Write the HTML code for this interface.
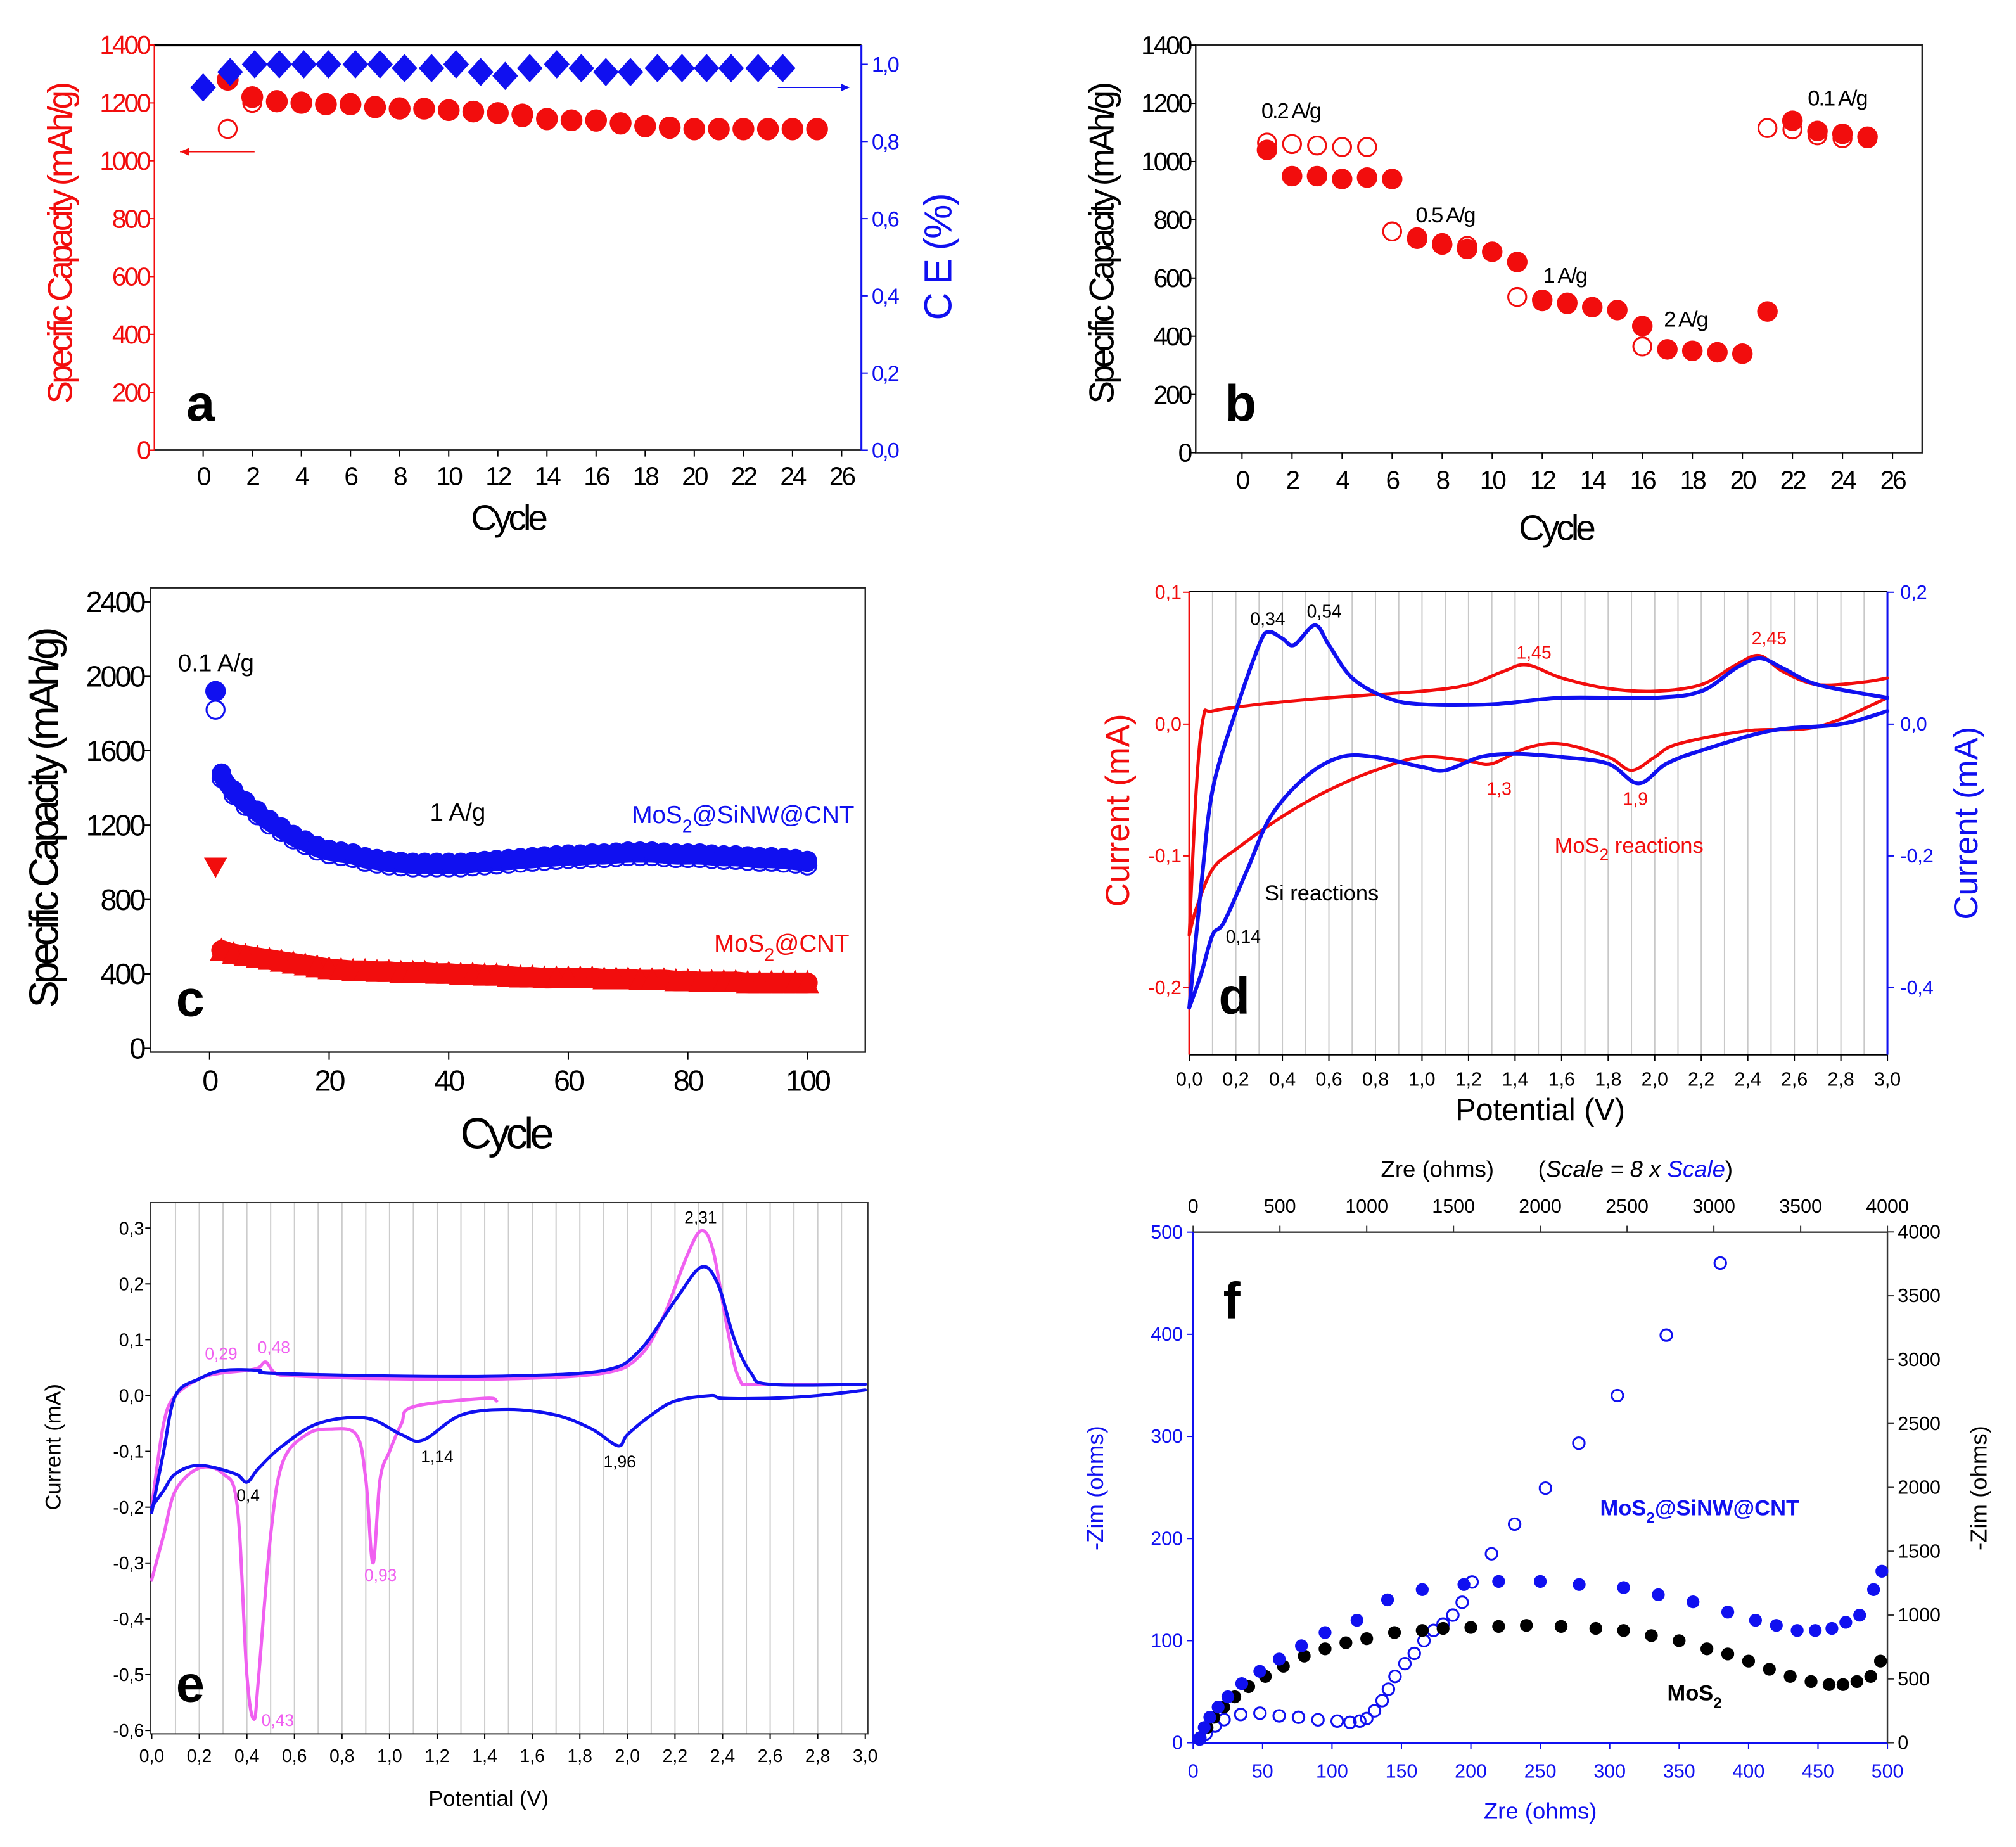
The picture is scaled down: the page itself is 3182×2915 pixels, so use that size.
<!DOCTYPE html>
<html><head><meta charset="utf-8"><style>
html,body{margin:0;padding:0;background:#fff;}
svg{display:block;}
text{font-family:"Liberation Sans",sans-serif;}
</style></head><body>
<svg id="fig" xmlns="http://www.w3.org/2000/svg" width="3182" height="2915" viewBox="0 0 1568 1436" preserveAspectRatio="none"></svg>
<script>
// ---------- Panel a data ----------
const aCycles=[1,2,3,4,5,6,7,8,9,10,11,12,13,14,15,16,17,18,19,20,21,22,23,24,25];
const aCharge=[1280,1220,1205,1200,1195,1195,1185,1180,1180,1175,1170,1165,1160,1145,1140,1140,1130,1120,1115,1110,1110,1110,1110,1110,1110];
const aDischarge=[1110,1200,1210,1205,1200,1200,1190,1185,1180,1175,1170,1165,1150,1140,1140,1135,1125,1115,1110,1105,1105,1105,1105,1105,1105];
const aCECycles=[0,1.1,2.1,3.1,4.1,5.1,6.2,7.2,8.2,9.3,10.3,11.3,12.3,13.3,14.4,15.4,16.4,17.4,18.5,19.5,20.5,21.5,22.6,23.6];
const aCE=[0.94,0.98,1.0,1.0,1.0,1.0,1.0,1.0,0.99,0.99,1.0,0.98,0.97,0.99,1.0,0.99,0.98,0.98,0.99,0.99,0.99,0.99,0.99,0.99];
const aYTicks=[0,200,400,600,800,1000,1200,1400];
const aY2Ticks=["0,0","0,2","0,4","0,6","0,8","1,0"];
const xTicks26=[0,2,4,6,8,10,12,14,16,18,20,22,24,26];
// ---------- Panel b data ----------
const bCycles=[1,2,3,4,5,6,7,8,9,10,11,12,13,14,15,16,17,18,19,20,21,22,23,24,25];
const bFilled=[1040,950,950,940,945,940,735,715,700,690,655,525,515,500,490,435,355,350,345,340,485,1140,1105,1095,1085];
const bOpen=[1065,1060,1055,1050,1050,760,740,720,710,690,535,520,510,500,490,365,355,350,345,340,1115,1110,1090,1080,1080];
// ---------- Panel c data ----------
const cCycles=[2,4,6,8,10,12,14,16,18,20,22,24,26,28,30,32,34,36,38,40,42,44,46,48,50,52,54,56,58,60,62,64,66,68,70,72,74,76,78,80,82,84,86,88,90,92,94,96,98,100];
const cBlue=[1480,1390,1330,1280,1230,1190,1150,1120,1090,1070,1060,1050,1030,1020,1010,1005,1000,1000,1000,1000,1000,1005,1010,1015,1020,1025,1030,1035,1040,1045,1045,1050,1050,1055,1060,1060,1060,1055,1050,1050,1050,1045,1040,1040,1035,1030,1030,1025,1020,1010];
const cRed=[520,500,490,480,470,460,450,440,430,420,415,410,410,405,405,400,400,400,395,395,390,390,385,385,380,375,375,370,370,370,370,370,365,365,365,360,360,360,355,355,350,350,350,350,345,345,345,345,345,345];
const cYTicks=[0,400,800,1200,1600,2000,2400];
const cXTicks=[0,20,40,60,80,100];
// ---------- Panel d data ----------
const dRedUpV=[0,0.03,0.06,0.1,0.3,0.6,1.0,1.2,1.35,1.45,1.6,1.8,2.0,2.2,2.35,2.45,2.55,2.7,2.9,3.0];
const dRedUpI=[-0.16,-0.05,0.005,0.01,0.015,0.02,0.025,0.03,0.04,0.045,0.035,0.027,0.025,0.03,0.045,0.052,0.04,0.03,0.032,0.035];
const dRedDnV=[3.0,2.7,2.4,2.1,2.0,1.9,1.8,1.6,1.45,1.3,1.2,1.0,0.8,0.6,0.4,0.2,0.1,0.03,0.0];
const dRedDnI=[0.02,-0.002,-0.005,-0.015,-0.025,-0.035,-0.025,-0.015,-0.018,-0.03,-0.028,-0.025,-0.035,-0.05,-0.07,-0.095,-0.11,-0.14,-0.16];
const dBlueUpV=[0,0.05,0.1,0.2,0.3,0.34,0.4,0.45,0.54,0.6,0.7,0.85,1.0,1.3,1.6,2.0,2.2,2.35,2.45,2.55,2.7,3.0];
const dBlueUpI=[-0.43,-0.25,-0.1,0.02,0.12,0.14,0.13,0.12,0.15,0.12,0.07,0.04,0.03,0.03,0.04,0.04,0.05,0.085,0.1,0.085,0.06,0.04];
const dBlueDnV=[3.0,2.8,2.5,2.2,2.05,1.93,1.8,1.6,1.4,1.25,1.1,1.0,0.8,0.65,0.5,0.35,0.25,0.15,0.1,0.05,0.0];
const dBlueDnI=[0.02,0.0,-0.01,-0.04,-0.06,-0.09,-0.06,-0.05,-0.045,-0.05,-0.07,-0.065,-0.05,-0.05,-0.08,-0.14,-0.22,-0.3,-0.32,-0.38,-0.43];
const dXTicks=["0,0","0,2","0,4","0,6","0,8","1,0","1,2","1,4","1,6","1,8","2,0","2,2","2,4","2,6","2,8","3,0"];
// ---------- Panel e data ----------
const ePinkUpV=[0,0.05,0.1,0.2,0.29,0.4,0.45,0.48,0.52,0.6,1.0,1.5,1.9,2.05,2.15,2.25,2.31,2.36,2.42,2.47,2.55,3.0];
const ePinkUpI=[-0.2,-0.05,0,0.03,0.04,0.045,0.05,0.06,0.04,0.035,0.03,0.03,0.04,0.07,0.14,0.25,0.295,0.26,0.12,0.03,0.02,0.02];
const ePinkDnV=[1.45,1.4,1.1,1.05,1.0,0.96,0.93,0.9,0.86,0.75,0.65,0.55,0.5,0.45,0.43,0.4,0.36,0.3,0.2,0.1,0.05,0.0];
const ePinkDnI=[-0.01,-0.005,-0.02,-0.05,-0.1,-0.15,-0.3,-0.15,-0.07,-0.06,-0.07,-0.12,-0.25,-0.5,-0.58,-0.5,-0.2,-0.14,-0.13,-0.17,-0.25,-0.33];
const eBlueUpV=[0,0.05,0.1,0.2,0.3,0.45,0.5,1.0,1.5,1.9,2.05,2.2,2.31,2.38,2.45,2.52,2.6,3.0];
const eBlueUpI=[-0.21,-0.1,0,0.03,0.045,0.045,0.04,0.035,0.035,0.045,0.08,0.17,0.23,0.2,0.1,0.04,0.02,0.02];
const eBlueDnV=[3.0,2.8,2.6,2.4,2.35,2.2,2.1,2.0,1.96,1.85,1.7,1.5,1.3,1.14,1.05,0.9,0.7,0.55,0.45,0.4,0.35,0.2,0.1,0.05,0.0];
const eBlueDnI=[0.01,0,-0.005,-0.005,0,-0.01,-0.035,-0.07,-0.09,-0.06,-0.035,-0.025,-0.035,-0.08,-0.07,-0.04,-0.05,-0.09,-0.13,-0.155,-0.14,-0.125,-0.14,-0.17,-0.2];
const eYTicks=["0,3","0,2","0,1","0,0","-0,1","-0,2","-0,3","-0,4","-0,5","-0,6"];
// ---------- Panel f data ----------
const fBlueZre=[5,8,12,18,25,35,48,62,78,95,118,140,165,195,220,250,278,310,335,360,385,405,420,435,448,460,470,480,490,496];
const fBlueZim=[5,15,25,35,45,58,70,82,95,108,120,140,150,155,158,158,155,152,145,138,128,120,115,110,110,112,118,125,150,168];
const fBlackZre=[5,10,15,22,30,40,52,65,80,95,110,125,145,165,180,200,220,240,265,290,310,330,350,370,385,400,415,430,445,458,468,478,488,495];
const fBlackZim=[5,15,25,35,45,55,65,75,85,92,98,102,108,110,112,113,114,115,114,112,110,105,100,92,87,80,72,65,60,57,57,60,65,80];
const fOpenZre=[37,74,126,178,274,385,496,607,719,830,904,960,1000,1045,1089,1125,1163,1220,1274,1330,1385,1440,1496,1550,1607,1719,1852,2030,2222,2444,2726,3037];
const fOpenZim=[30,70,131,181,222,232,211,200,180,170,160,170,190,250,330,420,520,620,700,800,880,930,1000,1100,1259,1480,1712,1994,2346,2719,3192,3756];
const fXTicks=[0,50,100,150,200,250,300,350,400,450,500];
const fYTicks=[0,100,200,300,400,500];
const fTopTicks=[0,500,1000,1500,2000,2500,3000,3500,4000];

const NS="http://www.w3.org/2000/svg";
const svg=document.getElementById('fig');
function mk(tag,attrs,parent){const e=document.createElementNS(NS,tag);for(const k in attrs)e.setAttribute(k,attrs[k]);(parent||svg).appendChild(e);return e;}
function grp(name){const g=mk('g',{});


return g;}
function txt(g,x,y,s,name,o){o=o||{};const t=mk('text',{x:x,y:y,'font-size':o.fs||16,fill:o.fill||'#000','text-anchor':o.anchor||'middle','font-weight':o.fw||'normal'},g);
if(o.rot!==undefined)t.setAttribute('transform','rotate('+o.rot+' '+x+' '+y+')');
if(o.style)t.setAttribute('style',o.style);
t.innerHTML=s;


return t;}
function line(g,x1,y1,x2,y2,c,w,name){const l=mk('line',{x1:x1,y1:y1,x2:x2,y2:y2,stroke:c,'stroke-width':w||1},g);


return l;}
function circ(g,x,y,r,fill,stroke,name){const c=mk('circle',{cx:x,cy:y,r:r,fill:fill,stroke:stroke||'none','stroke-width':1.5},g);


return c;}
function path(g,xs,ys,sx,sy,c,w,name){const P=xs.map((x,i)=>[sx(x),sy(ys[i])]);
let d='M'+P[0][0].toFixed(1)+' '+P[0][1].toFixed(1);
for(let i=0;i<P.length-1;i++){const p0=P[Math.max(0,i-1)],p1=P[i],p2=P[i+1],p3=P[Math.min(P.length-1,i+2)];
const c1=[p1[0]+(p2[0]-p0[0])/6,p1[1]+(p2[1]-p0[1])/6],c2=[p2[0]-(p3[0]-p1[0])/6,p2[1]-(p3[1]-p1[1])/6];
d+='C'+c1[0].toFixed(1)+' '+c1[1].toFixed(1)+' '+c2[0].toFixed(1)+' '+c2[1].toFixed(1)+' '+p2[0].toFixed(1)+' '+p2[1].toFixed(1);}
const p=mk('path',{d:d,fill:'none',stroke:c,'stroke-width':w,'stroke-linejoin':'round','stroke-linecap':'round'},g);


return p;}
const RED='#f20d0d',BLUE='#1010f0',PINK='#f060f0';

// ================= Panel a =================
(function(){const g=grp('panel-a');
const L=120,R=670,T=35,B=350;
const ax=c=>158+c*19.1, ay=v=>B-v*0.225, ay2=v=>B-v*300;
line(g,L,T,R,T,'#000',2,'top-axis');line(g,L,B,R,B,'#333',1.5,'x-axis');
line(g,L,T,L,B,RED,1,'left-axis');line(g,R,T,R,B,BLUE,1.5,'right-axis');
aYTicks.forEach(v=>{line(g,L-5,ay(v),L,ay(v),RED,1,'y-tick');txt(g,L-4,ay(v)+7,v,'y-tick-label',{fs:20,fill:RED,anchor:'end',style:'letter-spacing:-1.5px'});});
aY2Ticks.forEach((s,i)=>{const y=ay2(i*0.2);line(g,R,y,R+5,y,BLUE,1,'y2-tick');txt(g,R+8,y+6,s,'y2-tick-label',{fs:17,fill:BLUE,anchor:'start',style:'letter-spacing:-1px'});});
xTicks26.forEach(v=>{line(g,ax(v),B,ax(v),B+5,'#000',1,'x-tick');txt(g,ax(v),B+27,v,'x-tick-label',{fs:20,style:'letter-spacing:-1.5px'});});
txt(g,56,190,'Specific Capacity (mAh/g)','y-axis-title',{fs:27,fill:RED,rot:-90,style:'letter-spacing:-2.5px'});
txt(g,740,200,'C E (%)','y2-axis-title',{fs:30,fill:BLUE,rot:-90,style:'letter-spacing:-1px'});
txt(g,395,412,'Cycle','x-axis-title',{fs:28,style:'letter-spacing:-2.5px'});
txt(g,156,327,'a','panel-label',{fs:40,fw:'bold'});
line(g,140,118,198,118,RED,1,'capacity-arrow');mk('path',{d:'M140 118 l7 -3 v6z',fill:RED},g);
line(g,605,68,660,68,BLUE,1,'ce-arrow');mk('path',{d:'M661 68 l-7 -3 v6z',fill:BLUE},g);
aCycles.forEach((c,i)=>circ(g,ax(c),ay(aDischarge[i]),7,'none',RED,'discharge-point'));
aCycles.forEach((c,i)=>circ(g,ax(c),ay(aCharge[i]),8.5,RED,null,'charge-point'));
aCECycles.forEach((c,i)=>{const x=ax(c),y=ay2(aCE[i]);const p=mk('path',{d:`M${x} ${y-11}L${x+10} ${y}L${x} ${y+11}L${x-10} ${y}Z`,fill:BLUE},g);

});
})();

// ================= Panel b =================
(function(){const g=grp('panel-b');
const L=930,R=1495,T=35,B=352;
const bx=c=>966+c*19.46, by=v=>B-v*0.2264;
mk('rect',{x:L,y:T,width:R-L,height:B-T,fill:'none',stroke:'#222','stroke-width':1.2},g);
aYTicks.forEach(v=>{line(g,L-5,by(v),L,by(v),'#000',1,'y-tick');txt(g,L-4,by(v)+7,v,'y-tick-label',{fs:20,anchor:'end',style:'letter-spacing:-1.5px'});});
xTicks26.forEach(v=>{line(g,bx(v),B,bx(v),B+5,'#000',1,'x-tick');txt(g,bx(v),B+28,v,'x-tick-label',{fs:20,style:'letter-spacing:-1.5px'});});
txt(g,866,190,'Specific Capacity (mAh/g)','y-axis-title',{fs:27,rot:-90,style:'letter-spacing:-2.5px'});
txt(g,1210,420,'Cycle','x-axis-title',{fs:28,style:'letter-spacing:-2.5px'});
txt(g,965,327,'b','panel-label',{fs:40,fw:'bold'});
[['0.2 A/g',1004,92],['0.5 A/g',1124,173],['1 A/g',1217,220],['2 A/g',1311,254],['0.1 A/g',1429,82]].forEach(a=>txt(g,a[1],a[2],a[0],'rate-label',{fs:17,style:'letter-spacing:-1px'}));
bCycles.forEach((c,i)=>circ(g,bx(c),by(bOpen[i]),7,'none',RED,'discharge-point'));
bCycles.forEach((c,i)=>circ(g,bx(c),by(bFilled[i]),8,RED,null,'charge-point'));
})();

// ================= Panel c =================
(function(){const g=grp('panel-c');
const L=117,R=673,T=457,B=818;
const cx=c=>163+c*4.65, cy=v=>815-v*0.1446;
mk('rect',{x:L,y:T,width:R-L,height:B-T,fill:'none',stroke:'#222','stroke-width':1.2},g);
cYTicks.forEach(v=>{line(g,L-6,cy(v),L,cy(v),'#000',1,'y-tick');txt(g,L-5,cy(v)+8,v,'y-tick-label',{fs:23,anchor:'end',style:'letter-spacing:-1.5px'});});
cXTicks.forEach(v=>{line(g,cx(v),B,cx(v),B+6,'#000',1,'x-tick');txt(g,cx(v),B+30,v,'x-tick-label',{fs:23,style:'letter-spacing:-1.5px'});});
txt(g,45,637,'Specific Capacity (mAh/g)','y-axis-title',{fs:32,rot:-90,style:'letter-spacing:-3px'});
txt(g,393,893,'Cycle','x-axis-title',{fs:34,style:'letter-spacing:-3px'});
txt(g,148,790,'c','panel-label',{fs:40,fw:'bold'});
txt(g,168,522,'0.1 A/g','rate-label',{fs:19});
txt(g,356,638,'1 A/g','rate-label',{fs:19});
txt(g,578,640,'MoS<tspan dy="7" font-size="14">2</tspan><tspan dy="-7">@SiNW@CNT</tspan>','legend-sinw',{fs:19,fill:BLUE});
txt(g,608,740,'MoS<tspan dy="7" font-size="14">2</tspan><tspan dy="-7">@CNT</tspan>','legend-cnt',{fs:19,fill:RED});
circ(g,cx(1),cy(1820),7,'none',BLUE,'first-discharge');
circ(g,cx(1),cy(1920),8,BLUE,null,'first-charge');
const tri=mk('path',{d:`M${cx(1)-9} ${cy(970)-8}h18l-9 16z`,fill:RED},g);


path(g,cCycles,cBlue,cx,v=>cy(v)+2,BLUE,14,'sinw-band');
path(g,cCycles,cRed,cx,v=>cy(v)-1,RED,16,'cnt-band');
cCycles.forEach((c,i)=>circ(g,cx(c),cy(cBlue[i])+4,7,'none',BLUE,'sinw-discharge-point'));
cCycles.forEach((c,i)=>circ(g,cx(c),cy(cBlue[i]),7.5,BLUE,null,'sinw-point'));
cCycles.forEach((c,i)=>{const x=cx(c),y=cy(cRed[i]);const p=mk('path',{d:`M${x} ${y-11}L${x+9} ${y+7}L${x-9} ${y+7}Z`,fill:RED},g);

});
})();

// ================= Panel d =================
(function(){const g=grp('panel-d');
const L=925,R=1468,T=460,B=820;
const dx=v=>L+v*181, dy=v=>563-v*1025, dy2=v=>563-v*512.5;
for(let i=1;i<30;i++)line(g,dx(i/10),T,dx(i/10),B,'#c8c8c8',1,'grid-line');
line(g,L,T,R,T,'#000',1.2,'top-axis');line(g,L,B,R,B,'#000',1.2,'x-axis');
line(g,L,T,L,B,RED,1.5,'left-axis');line(g,R,T,R,B,BLUE,1.5,'right-axis');
dXTicks.forEach((s,i)=>{const x=dx(i*0.2);line(g,x,B,x,B+5,'#000',1,'x-tick');txt(g,x,B+24,s,'x-tick-label',{fs:15});});
[['0,1',0.1],['0,0',0],['-0,1',-0.1],['-0,2',-0.2]].forEach(a=>{line(g,L-5,dy(a[1]),L,dy(a[1]),RED,1,'y-tick');txt(g,L-6,dy(a[1])+5,a[0],'y-tick-label',{fs:15,fill:RED,anchor:'end'});});
[['0,2',0.2],['0,0',0],['-0,2',-0.2],['-0,4',-0.4]].forEach(a=>{line(g,R,dy2(a[1]),R+5,dy2(a[1]),BLUE,1,'y2-tick');txt(g,R+10,dy2(a[1])+5,a[0],'y2-tick-label',{fs:15,fill:BLUE,anchor:'start'});});
txt(g,878,630,'Current (mA)','y-axis-title',{fs:26,fill:RED,rot:-90});
txt(g,1538,640,'Current (mA)','y2-axis-title',{fs:26,fill:BLUE,rot:-90});
txt(g,1198,871,'Potential (V)','x-axis-title',{fs:24});
txt(g,960,788,'d','panel-label',{fs:40,fw:'bold'});
path(g,dRedUpV,dRedUpI,dx,dy,RED,2.5,'mos2-cnt-anodic');
path(g,dRedDnV,dRedDnI,dx,dy,RED,2.5,'mos2-cnt-cathodic');
path(g,dBlueUpV,dBlueUpI,dx,dy2,BLUE,3,'sinw-anodic');
path(g,dBlueDnV,dBlueDnI,dx,dy2,BLUE,3,'sinw-cathodic');
[['0,34',986,486,'#000'],['0,54',1030,480,'#000'],['1,45',1193,512,RED],['2,45',1376,501,RED],['1,3',1166,618,RED],['1,9',1272,626,RED],['0,14',967,733,'#000']].forEach(a=>txt(g,a[1],a[2],a[0],'peak-label',{fs:14,fill:a[3]}));
txt(g,1267,663,'MoS<tspan dy="6" font-size="13">2</tspan><tspan dy="-6"> reactions</tspan>','mos2-reactions-label',{fs:17,fill:RED});
txt(g,1028,700,'Si reactions','si-reactions-label',{fs:17});
})();

// ================= Panel e =================
(function(){const g=grp('panel-e');
const L=117,R=675,T=935,B=1348;
const ex=v=>118+v*185, ey=v=>1085-v*434;
for(let i=1;i<30;i++)line(g,ex(i/10),T,ex(i/10),B,'#cccccc',1,'grid-line');
mk('rect',{x:L,y:T,width:R-L,height:B-T,fill:'none',stroke:'#333','stroke-width':1},g);
eYTicks.forEach((s,i)=>{const y=ey(0.3-i*0.1);line(g,L-4,y,L,y,'#000',1,'y-tick');txt(g,L-5,y+5,s,'y-tick-label',{fs:14,anchor:'end'});});
dXTicks.forEach((s,i)=>{const x=ex(i*0.2);line(g,x,B,x,B+4,'#000',1,'x-tick');txt(g,x,B+22,s,'x-tick-label',{fs:14});});
txt(g,47,1125,'Current (mA)','y-axis-title',{fs:17,rot:-90});
txt(g,380,1404,'Potential (V)','x-axis-title',{fs:17});
txt(g,148,1323,'e','panel-label',{fs:40,fw:'bold'});
path(g,ePinkUpV,ePinkUpI,ex,ey,PINK,2.5,'pink-anodic');
path(g,ePinkDnV,ePinkDnI,ex,ey,PINK,2.5,'pink-cathodic');
path(g,eBlueUpV,eBlueUpI,ex,ey,BLUE,2.5,'blue-anodic');
path(g,eBlueDnV,eBlueDnI,ex,ey,BLUE,2.5,'blue-cathodic');
[['2,31',545,951,'#000'],['0,29',172,1057,PINK],['0,48',213,1052,PINK],['1,14',340,1137,'#000'],['1,96',482,1141,'#000'],['0,4',193,1167,'#000'],['0,93',296,1229,PINK],['0,43',216,1342,PINK]].forEach(a=>txt(g,a[1],a[2],a[0],'peak-label',{fs:13,fill:a[3]}));
})();

// ================= Panel f =================
(function(){const g=grp('panel-f');
const L=928,R=1468,T=958,B=1355;
const fx=v=>L+v*1.08, fy=v=>B-v*0.794, fxt=v=>L+v*0.135, fyr=v=>B-v*0.0993;
line(g,L,T,R,T,'#333',1.2,'top-axis');line(g,R,T,R,B,'#333',1.2,'right-axis');
line(g,L,B,R,B,BLUE,1.5,'bottom-axis');line(g,L,T,L,B,BLUE,1.5,'left-axis');
fXTicks.forEach(v=>{line(g,fx(v),B,fx(v),B+5,BLUE,1,'x-tick');txt(g,fx(v),B+27,v,'x-tick-label',{fs:15,fill:BLUE});});
fYTicks.forEach(v=>{line(g,L-5,fy(v),L,fy(v),BLUE,1,'y-tick');txt(g,L-8,fy(v)+5,v,'y-tick-label',{fs:15,fill:BLUE,anchor:'end'});});
fTopTicks.forEach(v=>{line(g,fxt(v),T-5,fxt(v),T,'#333',1,'top-tick');txt(g,fxt(v),T-15,v,'top-tick-label',{fs:15});});
fTopTicks.forEach(v=>{line(g,R,fyr(v),R+5,fyr(v),'#333',1,'right-tick');txt(g,R+8,fyr(v)+5,v,'right-tick-label',{fs:15,anchor:'start'});});
txt(g,1118,915,'Zre (ohms)','top-axis-title',{fs:18});
txt(g,1272,915,'(<tspan font-style="italic">Scale = 8 x </tspan><tspan font-style="italic" fill="'+BLUE+'">Scale</tspan>)','scale-note',{fs:18});
txt(g,1198,1414,'Zre (ohms)','x-axis-title',{fs:18,fill:BLUE});
txt(g,858,1157,'-Zim (ohms)','y-axis-title',{fs:18,fill:BLUE,rot:-90});
txt(g,1545,1157,'-Zim (ohms)','y2-axis-title',{fs:18,rot:-90});
txt(g,958,1025,'f','panel-label',{fs:40,fw:'bold'});
txt(g,1322,1178,'MoS<tspan dy="6" font-size="12">2</tspan><tspan dy="-6">@SiNW@CNT</tspan>','legend-sinw',{fs:17,fill:BLUE,fw:'bold'});
txt(g,1318,1322,'MoS<tspan dy="6" font-size="12">2</tspan>','legend-mos2',{fs:17,fw:'bold'});
fOpenZre.forEach((z,i)=>circ(g,fxt(z),fyr(fOpenZim[i]),4.5,'none',BLUE,'sinw-scaled-point'));
fBlackZre.forEach((z,i)=>circ(g,fx(z),fy(fBlackZim[i]),5,'#000',null,'mos2-point'));
fBlueZre.forEach((z,i)=>circ(g,fx(z),fy(fBlueZim[i]),5,BLUE,null,'sinw-point'));
})();
</script>
</body></html>
